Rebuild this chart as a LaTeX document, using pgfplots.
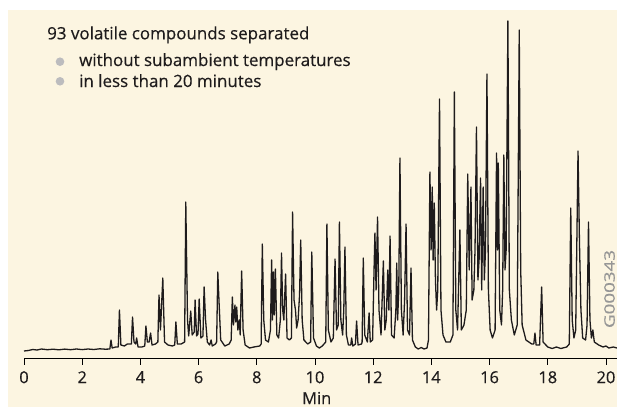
\documentclass[border=0pt]{standalone}
\usepackage{pgfplots}
\pgfplotsset{compat=1.18}
\usepackage{fontspec}
\setmainfont{Open Sans}[FakeBold=0.4]
\definecolor{cream}{RGB}{252,245,225}
\definecolor{txt}{RGB}{30,27,28}
\definecolor{bul}{RGB}{188,188,190}
\definecolor{gcode}{RGB}{150,150,150}
\begin{document}
\begin{tikzpicture}[x=1bp,y=1bp]
\useasboundingbox (0,0) rectangle (617,407);
\fill[cream] (8,0) rectangle (617,397);
\begin{axis}[
  at={(24bp,48.3bp)}, anchor=south west,
  scale only axis, width=593bp, height=348.7bp,
  xmin=0, xmax=20.38, ymin=-8.7, ymax=340,
  axis x line=bottom, axis y line=none,
  axis line style={black, line width=0.9bp, -},
  xtick={0,2,...,20}, ytick=\empty,
  tick align=outside, major tick length=6bp,
  tick style={black, line width=0.9bp},
  /pgf/number format/assume math mode=true,
  xticklabel style={font=\fontsize{16.5}{18}\selectfont, text=txt, yshift=-3bp},
  clip=false,
]
\addplot[txt, line width=1.3bp, line join=round] coordinates {
(0,-1) (0.15,-0.5) (0.3,0.5) (0.45,0) (0.6,1) (0.8,0.3) (1,0.8) (1.2,0.2) (1.4,0.9) (1.6,0.3) (1.8,1) (2,0.4) (2.2,1) (2.4,0.5) (2.6,1.2) (2.8,0.8)
(2.95,1) (2.99,10) (3.03,2) (3.15,3)
(3.24,3) (3.28,40) (3.33,5) (3.45,4) (3.55,6)
(3.69,6) (3.73,33) (3.78,8) (3.84,6) (3.87,12) (3.92,3) (4.05,3)
(4.15,4) (4.19,24) (4.24,8) (4.30,8) (4.35,17) (4.40,5) (4.52,6)
(4.60,8) (4.64,55) (4.69,20) (4.77,72) (4.83,8) (4.95,5) (5.1,4)
(5.18,5) (5.22,28) (5.27,6) (5.40,6)
(5.52,8) (5.56,148) (5.62,30) (5.66,14) (5.73,39) (5.78,15) (5.85,18) (5.88,50) (5.93,14)
(5.98,16) (6.02,51) (6.08,12) (6.15,14) (6.19,63) (6.24,30) (6.3,8) (6.38,5) (6.43,10) (6.47,4) (6.58,6)
(6.62,8) (6.66,78) (6.7,50) (6.76,10) (6.9,4) (7.05,6)
(7.12,10) (7.16,53) (7.2,25) (7.25,45) (7.28,28) (7.31,43) (7.35,20) (7.40,30) (7.43,15) (7.48,79) (7.53,20) (7.6,5) (7.75,2) (7.9,3) (8.1,4)
(8.15,6) (8.19,106) (8.24,30) (8.3,10) (8.4,8) (8.47,20) (8.51,90) (8.54,30) (8.57,78) (8.60,35) (8.64,81) (8.69,15) (8.75,12) (8.81,30) (8.85,97) (8.89,40) (8.93,30) (8.99,76) (9.04,12) (9.12,10)
(9.19,12) (9.23,138) (9.28,50) (9.33,40) (9.37,22) (9.42,30) (9.47,55) (9.51,110) (9.56,30) (9.62,10) (9.75,6)
(9.85,8) (9.89,98) (9.95,12) (10.05,4) (10.15,2) (10.25,4)
(10.37,8) (10.41,126) (10.46,20) (10.55,8) (10.63,12) (10.69,91) (10.74,20) (10.8,25) (10.84,128) (10.89,30) (10.95,15) (10.99,40) (11.03,103) (11.08,15) (11.15,5)
(11.23,5) (11.26,12) (11.3,4) (11.39,6) (11.43,29) (11.48,5) (11.6,6)
(11.62,8) (11.66,92) (11.71,15) (11.8,8) (11.86,37) (11.9,8)
(11.98,10) (12.03,80) (12.06,117) (12.1,60) (12.15,133) (12.2,40) (12.27,15) (12.35,89) (12.4,20) (12.45,30) (12.5,80) (12.54,40) (12.58,114) (12.63,15) (12.72,12) (12.78,40) (12.81,87) (12.84,30) (12.88,60) (12.92,192) (12.97,40) (13.03,15) (13.08,50) (13.13,126) (13.18,20) (13.25,15) (13.30,82) (13.35,10) (13.45,3) (13.55,1) (13.65,2.5) (13.75,1) (13.85,2)
(13.9,10) (13.95,178) (13.99,100) (14.03,163) (14.06,90) (14.10,147) (14.14,70) (14.18,40) (14.22,60) (14.28,251) (14.33,40) (14.4,15) (14.5,8) (14.65,8)
(14.74,15) (14.79,258) (14.84,40) (14.9,20) (14.98,120) (15.03,20) (15.12,25)
(15.2,40) (15.25,176) (15.3,80) (15.36,163) (15.4,50) (15.46,60) (15.5,100) (15.55,223) (15.6,70) (15.64,90) (15.69,172) (15.73,60) (15.78,163) (15.82,70) (15.86,100) (15.91,276) (15.96,60) (16.02,20) (16.1,12)
(16.19,20) (16.24,197) (16.27,100) (16.30,187) (16.35,40) (16.41,25) (16.45,60) (16.49,195) (16.53,80) (16.57,100) (16.63,329) (16.68,60) (16.75,30) (16.85,15) (16.95,25) (17.02,320) (17.07,80) (17.12,25) (17.25,10) (17.45,6)
(17.52,6) (17.56,17) (17.6,5) (17.72,5) (17.79,63) (17.84,8) (18,3) (18.15,1.5) (18.3,3) (18.45,1.5) (18.65,3)
(18.74,6) (18.79,142) (18.84,30) (18.9,12) (18.96,20) (19.04,199) (19.09,107) (19.14,40) (19.2,12) (19.3,10) (19.35,25) (19.40,128) (19.45,30) (19.5,12) (19.55,20) (19.6,8) (19.75,5) (19.9,3) (20.0,4) (20.1,2) (20.25,3) (20.38,2)
};
\end{axis}
\node[anchor=base, text=txt, font=\fontsize{16.5}{18}\selectfont, inner sep=0] at (316.7,3) {Min};
\node[anchor=base west, text=txt, font=\fontsize{17}{19}\selectfont, inner sep=0] at (47,367.7) {93 volatile compounds separated};
\fill[bul] (60,345.3) circle (4.3);
\fill[bul] (60,325.7) circle (4.3);
\node[anchor=base west, text=txt, font=\fontsize{17}{19}\selectfont, inner sep=0] at (79,341) {without subambient temperatures};
\node[anchor=base west, text=txt, font=\fontsize{17}{19}\selectfont, inner sep=0] at (79,320) {in less than 20 minutes};
\node[rotate=90, text=gcode, font=\fontsize{14.5}{17}\selectfont, inner sep=0] at (609.5,118) {\scalebox{1.3}[1]{G000343}};
\end{tikzpicture}
\end{document}
